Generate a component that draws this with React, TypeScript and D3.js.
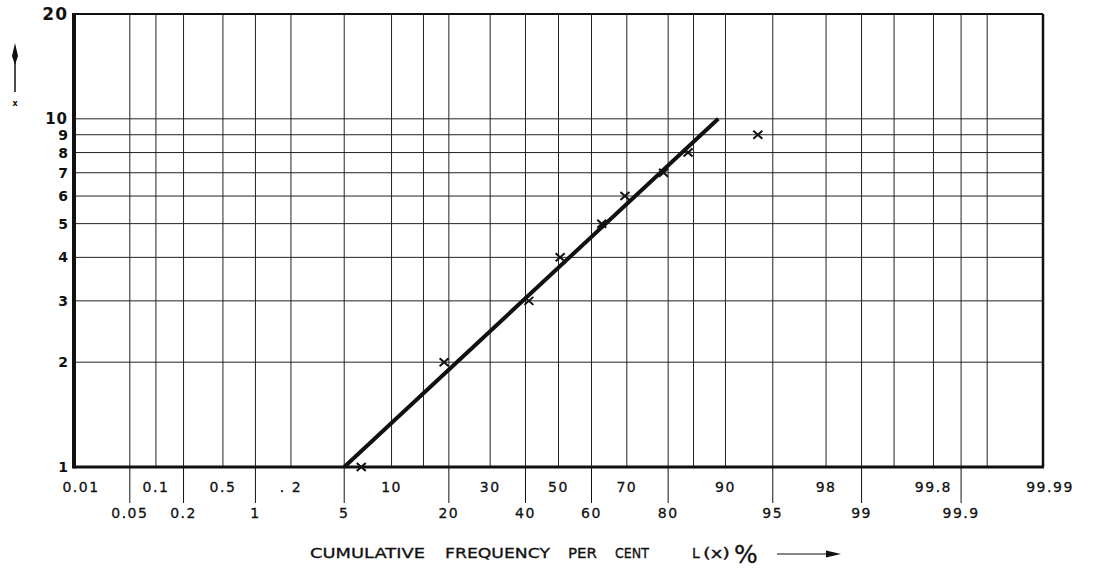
import React from "react";
import * as d3 from "d3";

// Cumulative-frequency probability paper (log-normal): x on probit scale, y on log scale.
const yGridValues = [2, 3, 4, 5, 6, 7, 8, 9, 10];
const yTickValues = [1, 2, 3, 4, 5, 6, 7, 8, 9, 10, 20];
const yTickLabels = ["1", "2", "3", "4", "5", "6", "7", "8", "9", "10", "20"];

const xGridValues = [
  0.05, 0.1, 0.2, 0.5, 1, 2, 5, 10, 15, 20, 30, 40, 50, 60, 70, 80, 85, 90, 95,
  98, 99, 99.5, 99.8, 99.9, 99.95,
];

const xUpperValues = [0.01, 0.1, 0.5, 2, 10, 30, 50, 70, 90, 98, 99.8, 99.99];
const xUpperLabels = ["0.01", "0.1", "0.5", ". 2", "10", "30", "50", "70", "90", "98", "99.8", "99.99"];
const xLowerValues = [0.05, 0.2, 1, 5, 20, 40, 60, 80, 95, 99, 99.9];
const xLowerLabels = ["0.05", "0.2", "1", "5", "20", "40", "60", "80", "95", "99", "99.9"];

// Observed cumulative percentages L(x) for each x
const obsX = [1, 2, 3, 4, 5, 6, 7, 8, 9];
const obsPct = [6.5, 19, 41, 50.5, 63, 69.5, 79, 84, 93.7];

// Fitted straight line
const fitX = [1, 10];
const fitPct = [5, 89];

// Inverse standard normal CDF (Acklam's rational approximation)
function probit(p: number): number {
  const a = [-39.69683028665376, 220.9460984245205, -275.9285104469687, 138.357751867269, -30.66479806614716, 2.506628277459239];
  const b = [-54.47609879822406, 161.5858368580409, -155.6989798598866, 66.80131188771972, -13.28068155288572];
  const c = [-0.007784894002430293, -0.3223964580411365, -2.400758277161838, -2.549732539343734, 4.374664141464968, 2.938163982698783];
  const d = [0.007784695709041462, 0.3224671290700398, 2.445134137142996, 3.754408661907416];
  const pl = 0.02425;
  if (p < pl) {
    const q = Math.sqrt(-2 * Math.log(p));
    return (((((c[0] * q + c[1]) * q + c[2]) * q + c[3]) * q + c[4]) * q + c[5]) / ((((d[0] * q + d[1]) * q + d[2]) * q + d[3]) * q + 1);
  }
  if (p > 1 - pl) {
    const q = Math.sqrt(-2 * Math.log(1 - p));
    return -(((((c[0] * q + c[1]) * q + c[2]) * q + c[3]) * q + c[4]) * q + c[5]) / ((((d[0] * q + d[1]) * q + d[2]) * q + d[3]) * q + 1);
  }
  const q = p - 0.5;
  const r = q * q;
  return ((((((a[0] * r + a[1]) * r + a[2]) * r + a[3]) * r + a[4]) * r + a[5]) * q) / (((((b[0] * r + b[1]) * r + b[2]) * r + b[3]) * r + b[4]) * r + 1);
}

const W = 1093;
const H = 569;
const left = 74;
const right = 1043;
const top = 14;
const bottom = 467;

const zMax = probit(0.9999);
const zScale = d3.scaleLinear().domain([-zMax, zMax]).range([left, right]);
const xPos = (pct: number) => zScale(probit(pct / 100));
const yScale = d3.scaleLog().domain([1, 20]).range([bottom, top]);

const FONT = "'DejaVu Sans', sans-serif";
const INK = "#111";

export default function App() {
  const fitLine = d3
    .line<number>()
    .x((_, i) => xPos(fitPct[i]))
    .y((v) => yScale(v))(fitX);

  const edgeShift = (v: number) => (v === 0.01 || v === 99.99 ? 7 : 0);
  const yFont = (v: number) => (v === 20 ? 17 : v === 10 ? 15 : 14);

  return (
    <svg
      width={W}
      height={H}
      viewBox={`0 0 ${W} ${H}`}
      style={{ position: "absolute", left: 0, top: 0, background: "#fff" }}
    >
      <rect x={0} y={0} width={W} height={H} fill="#fff" />

      {/* horizontal grid */}
      {yGridValues.map((v) => (
        <line key={`hy${v}`} x1={left} x2={right} y1={yScale(v)} y2={yScale(v)} stroke="#222" strokeWidth={1} />
      ))}

      {/* vertical grid */}
      {xGridValues.map((v) => (
        <line key={`vx${v}`} x1={xPos(v)} x2={xPos(v)} y1={top} y2={bottom} stroke="#222" strokeWidth={1} />
      ))}

      {/* lower-row ticks extending below the frame */}
      {xLowerValues.map((v) => (
        <line key={`lt${v}`} x1={xPos(v)} x2={xPos(v)} y1={bottom} y2={bottom + 36} stroke={INK} strokeWidth={1} />
      ))}

      {/* frame */}
      <line x1={left} x2={right} y1={top} y2={top} stroke={INK} strokeWidth={2} />
      <line x1={right} x2={right} y1={top} y2={bottom} stroke={INK} strokeWidth={2.5} />
      <line x1={left} x2={right + 1} y1={bottom} y2={bottom} stroke={INK} strokeWidth={3} />
      <line x1={left} x2={left} y1={top - 1} y2={bottom + 1.5} stroke={INK} strokeWidth={4} />

      {/* y tick labels */}
      {yTickValues.map((v, i) => (
        <text
          key={`yl${v}`}
          x={68}
          y={yScale(v)}
          dy="0.36em"
          textAnchor="end"
          fontFamily={FONT}
          fontWeight="bold"
          fontSize={yFont(v)}
          letterSpacing={v >= 10 ? 1 : 0}
          fill={INK}
        >
          {yTickLabels[i]}
        </text>
      ))}

      {/* x tick labels, two staggered rows */}
      {xUpperValues.map((v, i) => (
        <text
          key={`xu${v}`}
          x={xPos(v) + edgeShift(v)}
          y={492}
          textAnchor="middle"
          fontFamily={FONT}
          fontSize={14}
          letterSpacing={1.5}
          stroke={INK}
          strokeWidth={0.3}
          fill={INK}
        >
          {xUpperLabels[i]}
        </text>
      ))}
      {xLowerValues.map((v, i) => (
        <text
          key={`xl${v}`}
          x={xPos(v)}
          y={518}
          textAnchor="middle"
          fontFamily={FONT}
          fontSize={14}
          letterSpacing={1.5}
          stroke={INK}
          strokeWidth={0.3}
          fill={INK}
        >
          {xLowerLabels[i]}
        </text>
      ))}

      {/* fitted line */}
      <path d={fitLine ?? ""} fill="none" stroke={INK} strokeWidth={4} strokeLinecap="butt" />

      {/* observed points */}
      {obsX.map((v, i) => (
        <path
          key={`pt${v}`}
          transform={`translate(${xPos(obsPct[i])},${yScale(v)})`}
          d="M-4.5,-4L4.5,4M-4.5,4L4.5,-4"
          stroke={INK}
          strokeWidth={2}
          fill="none"
        />
      ))}

      {/* y axis arrow and symbol */}
      <line x1={15} x2={15} y1={92} y2={56} stroke={INK} strokeWidth={1.5} />
      <path d="M15,43 L18,56 L15,65 L12,56 Z" fill={INK} />
      <text x={15} y={106} textAnchor="middle" fontFamily={FONT} fontWeight="bold" fontSize={8} fill={INK}>
        x
      </text>

      {/* x axis title */}
      <g fontFamily={FONT} fontSize={14} fill={INK} stroke={INK} strokeWidth={0.3}>
        <text x={310} y={558} textLength={115} lengthAdjust="spacingAndGlyphs">CUMULATIVE</text>
        <text x={445} y={558} textLength={105} lengthAdjust="spacingAndGlyphs">FREQUENCY</text>
        <text x={568} y={558} textLength={29} lengthAdjust="spacingAndGlyphs">PER</text>
        <text x={615} y={558} textLength={34} lengthAdjust="spacingAndGlyphs">CENT</text>
        <text x={692} y={558}>L</text>
        <text x={703} y={558} textLength={27} lengthAdjust="spacingAndGlyphs">(x)</text>
        <text x={734} y={563} fontSize={25}>%</text>
      </g>
      <line x1={777} x2={828} y1={554} y2={554} stroke={INK} strokeWidth={1.2} />
      <path d="M841,554 L826,550.5 L826,557.5 Z" fill={INK} />
    </svg>
  );
}
